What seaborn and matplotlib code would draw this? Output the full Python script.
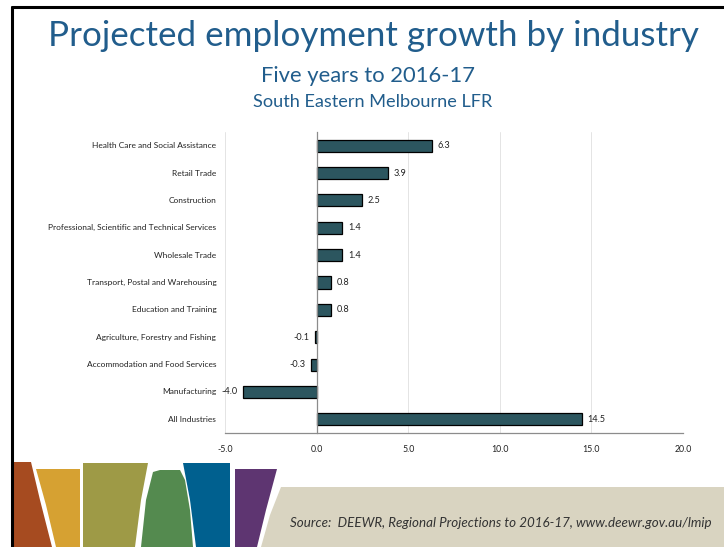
import numpy as np
import pandas as pd
import matplotlib
matplotlib.use('Agg')
import matplotlib.pyplot as plt
import matplotlib.transforms as mtransforms
from matplotlib.patches import Polygon
import seaborn as sns

# ---------------------------------------------------------------------------
# Data
# ---------------------------------------------------------------------------
industries = [
    'Health Care and Social Assistance',
    'Retail Trade',
    'Construction',
    'Professional, Scientific and Technical Services',
    'Wholesale Trade',
    'Transport, Postal and Warehousing',
    'Education and Training',
    'Agriculture, Forestry and Fishing',
    'Accommodation and Food Services',
    'Manufacturing',
    'All Industries',
]
growth = [6.3, 3.9, 2.5, 1.4, 1.4, 0.8, 0.8, -0.1, -0.3, -4.0, 14.5]
x_ticks = [-5.0, 0.0, 5.0, 10.0, 15.0, 20.0]

TITLE = 'Projected employment growth by industry'
SUBTITLE = 'Five years to 2016-17'
REGION = 'South Eastern Melbourne LFR'
SOURCE = 'Source:  DEEWR, Regional Projections to 2016-17, www.deewr.gov.au/lmip'

BAR_COLOR = '#245B67'
TITLE_COLOR = '#215D8C'

sns.set_style('white')
plt.rcParams['font.family'] = ['Lato', 'DejaVu Sans']

df = pd.DataFrame({'industry': industries, 'growth': growth})

W, H = 724, 547
fig = plt.figure(figsize=(W / 100, H / 100), dpi=100)


def px(x0, y0, x1, y1):
    """pixel box -> figure rect"""
    return [x0 / W, 1 - y1 / H, (x1 - x0) / W, (y1 - y0) / H]


# ---------------------------------------------------------------------------
# Slide decoration
# ---------------------------------------------------------------------------
def _slide_decor():
    shapes = [
        ('#A64B20', [(12, 462), (31, 462), (40, 500), (52, 547), (12, 547)]),
        ('#D6A132', [(36, 469), (80, 469), (80, 547), (56, 547), (46, 505)]),
        ('#9E9A46', [(83, 463), (148, 463), (141, 500), (135, 547), (83, 547)]),
        ('#548A4F', [(141, 547), (146, 500), (153, 472), (160, 470), (180, 470),
                     (185, 480), (190, 510), (193, 547)]),
        ('#00608F', [(183, 463), (230, 463), (230, 547), (196, 547), (190, 500)]),
        ('#5E3571', [(235, 469), (277, 469), (266, 510), (257, 547), (235, 547)]),
        ('#D9D4C1', [(281, 487), (W, 487), (W, H), (261, H), (270, 515)]),
    ]
    for color, pts in shapes:
        fig.patches.append(Polygon([(x / W, 1 - y / H) for x, y in pts],
                                   closed=True, transform=fig.transFigure,
                                   facecolor=color, edgecolor='none', zorder=0))
    # black slide frame (left + top)
    fig.add_artist(plt.Line2D([12 / W, 12 / W], [0, 1 - 7 / H], color='black',
                              lw=2.2, transform=fig.transFigure))
    fig.add_artist(plt.Line2D([12 / W, 1], [1 - 7 / H, 1 - 7 / H], color='black',
                              lw=2.2, transform=fig.transFigure))


_slide_decor()

fig.text(373 / W, 1 - 36 / H, TITLE, ha='center', va='center',
         fontsize=25.2, color=TITLE_COLOR)
fig.text(368 / W, 1 - 76 / H, SUBTITLE, ha='center', va='center',
         fontsize=15.8, color=TITLE_COLOR)
fig.text(373 / W, 1 - 102 / H, REGION, ha='center', va='center',
         fontsize=13.1, color=TITLE_COLOR)
fig.text(290 / W, 1 - 523 / H, SOURCE, ha='left', va='center',
         fontsize=9.6, style='italic', color='#333333')

# ---------------------------------------------------------------------------
# Chart
# ---------------------------------------------------------------------------
ax = fig.add_axes(px(225, 132, 683, 433))
sns.barplot(data=df, x='growth', y='industry', orient='h', color=BAR_COLOR,
            edgecolor='black', linewidth=0.9, width=0.44, ax=ax, zorder=3)

ax.set_xlim(x_ticks[0], x_ticks[-1])
ax.set_ylim(len(industries) - 0.5, -0.5)
ax.set_xticks(x_ticks)
ax.set_xticklabels([f'{t:.1f}' for t in x_ticks], fontsize=6.3, color='#222222')
ax.set_xlabel('')
ax.set_ylabel('')

ax.xaxis.grid(True, color='#e4e4e4', lw=0.7, zorder=0)
ax.yaxis.grid(False)
for s in ['top', 'right']:
    ax.spines[s].set_visible(False)
ax.spines['bottom'].set_color('#8c8c8c')
ax.spines['bottom'].set_linewidth(0.9)
ax.spines['left'].set_position(('data', 0))
ax.spines['left'].set_color('#8c8c8c')
ax.spines['left'].set_linewidth(0.9)
ax.spines['left'].set_zorder(4)
ax.tick_params(axis='x', length=4, width=0.9, color='#8c8c8c', pad=5)

# category labels sit at the left edge of the plot, not at the zero line
ax.set_yticks(range(len(industries)))
ax.set_yticklabels([])
ax.tick_params(axis='y', which='major', length=0)
ax.set_yticks(np.arange(len(industries) + 1) - 0.5, minor=True)
ax.tick_params(axis='y', which='minor', length=3, width=0.8, color='#8c8c8c',
               direction='out')
trans = mtransforms.blended_transform_factory(ax.transAxes, ax.transData)
for i, name in enumerate(industries):
    ax.text(-0.019, i, name, transform=trans, ha='right', va='center',
            fontsize=6.0, color='#222222')

# value labels
for i, v in enumerate(growth):
    ax.annotate(f'{v:.1f}', (v, i), xytext=(4 if v >= 0 else -4, 0),
                textcoords='offset points', ha='left' if v >= 0 else 'right',
                va='center', fontsize=6.6, color='#222222')

fig.savefig('out.png', dpi=100)
